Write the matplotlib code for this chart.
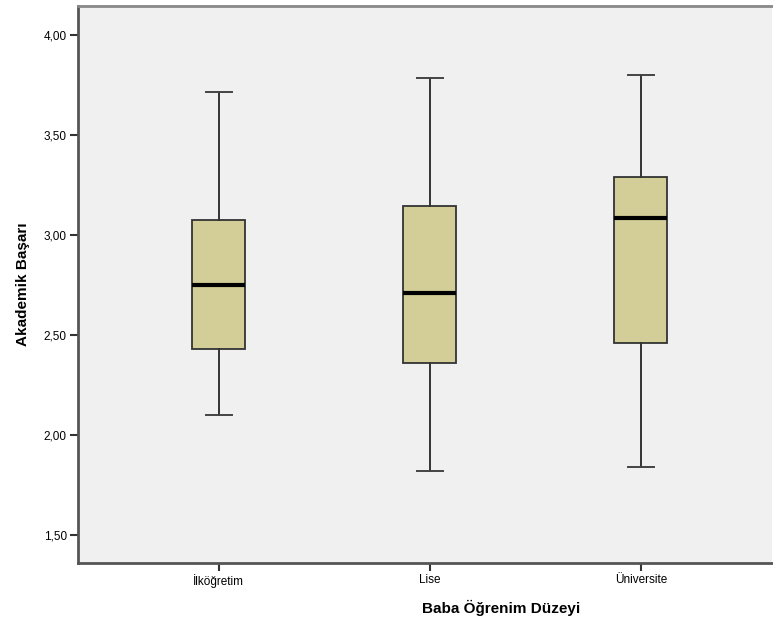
import matplotlib.pyplot as plt

plt.rcParams['font.family'] = ['Liberation Sans', 'DejaVu Sans']

categories = ['İlköğretim', 'Lise', 'Üniversite']
whis_low = [2.098, 1.818, 1.838]
q1 = [2.431, 2.359, 2.457]
median = [2.751, 2.709, 3.081]
q3 = [3.071, 3.142, 3.286]
whis_high = [3.712, 3.784, 3.800]
yticks = [1.5, 2.0, 2.5, 3.0, 3.5, 4.0]

stats = []
for i, name in enumerate(categories):
    stats.append({'label': name, 'whislo': whis_low[i], 'q1': q1[i], 'med': median[i],
                  'q3': q3[i], 'whishi': whis_high[i], 'fliers': []})

fig = plt.figure(figsize=(7.73, 6.28), dpi=100)
ax = fig.add_axes([78/773, 65/628, 694/773, 557.5/628])
ax.set_facecolor('#f0f0f0')

ax.bxp(stats, positions=[1, 2, 3], widths=0.25, patch_artist=True, showfliers=False,
       boxprops=dict(facecolor='#d3ce97', edgecolor='#333333', linewidth=1.3),
       medianprops=dict(color='black', linewidth=3),
       whiskerprops=dict(color='#333333', linewidth=1.4),
       capprops=dict(color='#444444', linewidth=1.4), capwidths=0.125)

ax.set_xlim(0.333, 3.622)
ax.set_ylim(1.36, 4.145)
ax.set_yticks(yticks)
ax.set_yticklabels([f'{v:.2f}'.replace('.', ',') for v in yticks])
ax.set_xticks([1, 2, 3])
ax.set_xticklabels(categories)
ax.tick_params(axis='both', labelsize=8.5, color='#333333', width=1.5, length=6, pad=2)

for s in ['left', 'bottom']:
    ax.spines[s].set_color('#555555')
    ax.spines[s].set_linewidth(2)
ax.spines['top'].set_color('#888888')
ax.spines['top'].set_linewidth(2)
ax.spines['right'].set_visible(False)

ax.set_ylabel('Akademik Başarı', fontsize=11, fontweight='bold', labelpad=10)
ax.set_xlabel('Baba Öğrenim Düzeyi', fontsize=11, fontweight='bold', labelpad=10)
ax.xaxis.set_label_coords(423/694, -0.066)

fig.savefig('out.png', dpi=100)
